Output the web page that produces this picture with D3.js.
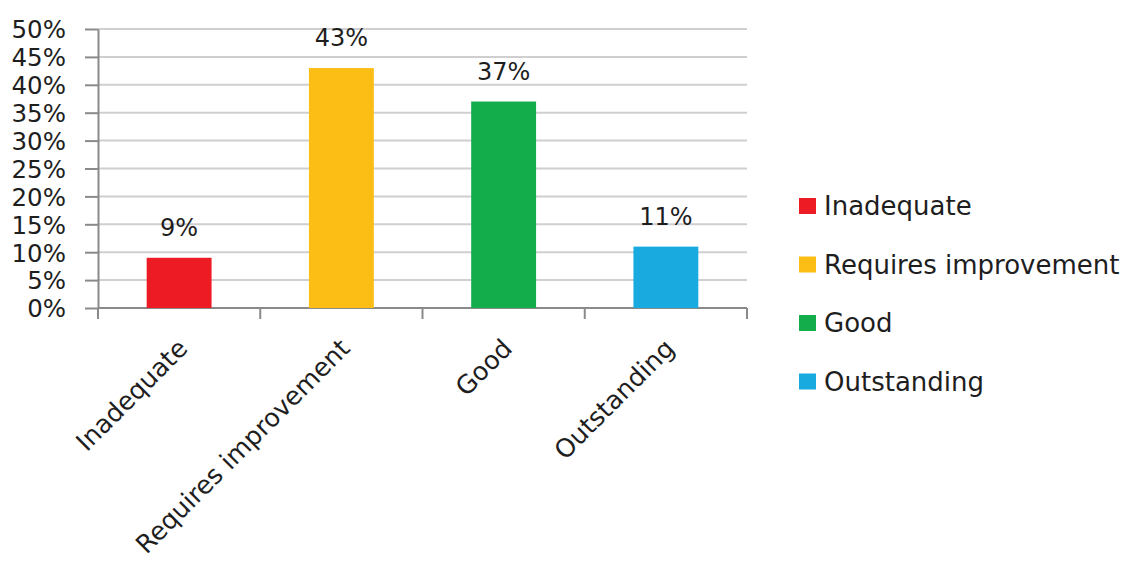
<!DOCTYPE html>
<html>
<head>
<meta charset="utf-8">
<script src="https://cdn.jsdelivr.net/npm/d3@7"></script>
<style>
  body { margin: 0; background: #fff; }
  text { font-family: "DejaVu Sans", sans-serif; fill: #1e1e1e; }
</style>
</head>
<body>
<svg id="chart" width="1129" height="562"></svg>
<script>
// chart data
const categories = ["Inadequate", "Requires improvement", "Good", "Outstanding"];
const values = [9, 43, 37, 11];
const colors = ["#ed1c24", "#fcbd14", "#14ad4b", "#19aae0"];
const yTicks = [0, 5, 10, 15, 20, 25, 30, 35, 40, 45, 50];

const svg = d3.select("#chart");
const plot = { left: 98, right: 747, top: 29, bottom: 308 };

const x = d3.scaleBand().domain(categories).range([plot.left, plot.right]).padding(0);
const y = d3.scaleLinear().domain([0, 50]).range([plot.bottom, plot.top]);

// gridlines
svg.append("g")
  .selectAll("line")
  .data(yTicks.slice(1))
  .join("line")
  .attr("x1", plot.left).attr("x2", plot.right)
  .attr("y1", d => y(d)).attr("y2", d => y(d))
  .attr("stroke", "#cfcfcf").attr("stroke-width", 2);

// y axis
const yAxis = svg.append("g")
  .attr("transform", `translate(${plot.left},0)`)
  .call(d3.axisLeft(y).tickValues(yTicks).tickFormat(d => d + "%").tickSize(13).tickSizeOuter(0));
yAxis.selectAll("path, line").attr("stroke", "#8a8a8a").attr("stroke-width", 2);
yAxis.selectAll("text").attr("font-size", 24.5).attr("x", -32).attr("dy", "0.36em").attr("fill", "#1e1e1e");

// x axis, ticks at the band edges
const xAxis = svg.append("g").attr("transform", `translate(0,${plot.bottom})`);
xAxis.append("line")
  .attr("x1", plot.left).attr("x2", plot.right)
  .attr("stroke", "#8a8a8a").attr("stroke-width", 2);
const edges = categories.map(c => x(c)).concat([x(categories[categories.length - 1]) + x.bandwidth()]);
xAxis.selectAll("line.tick")
  .data(edges)
  .join("line")
  .attr("class", "tick")
  .attr("x1", d => d).attr("x2", d => d)
  .attr("y1", 0).attr("y2", 11)
  .attr("stroke", "#8a8a8a").attr("stroke-width", 2);

// rotated category labels
xAxis.selectAll("text")
  .data(categories)
  .join("text")
  .attr("text-anchor", "end")
  .attr("font-size", 25.5)
  .attr("transform", d => `translate(${x(d) + x.bandwidth() / 2 + 10},${42}) rotate(-45)`)
  .text(d => d);

// bars
const barW = x.bandwidth() * 0.4;
svg.append("g")
  .selectAll("rect")
  .data(categories)
  .join("rect")
  .attr("x", d => x(d) + x.bandwidth() / 2 - barW / 2)
  .attr("y", (d, i) => y(values[i]))
  .attr("width", barW)
  .attr("height", (d, i) => plot.bottom - y(values[i]))
  .attr("fill", (d, i) => colors[i]);

// value labels
svg.append("g")
  .selectAll("text")
  .data(categories)
  .join("text")
  .attr("text-anchor", "middle")
  .attr("font-size", 24)
  .attr("x", d => x(d) + x.bandwidth() / 2)
  .attr("y", (d, i) => y(values[i]) - 22)
  .text((d, i) => values[i] + "%");

// legend
const legend = svg.append("g").attr("transform", "translate(799,206)");
const item = legend.selectAll("g")
  .data(categories)
  .join("g")
  .attr("transform", (d, i) => `translate(0,${i * 58.5})`);
item.append("rect")
  .attr("x", 0).attr("y", -8)
  .attr("width", 17).attr("height", 16)
  .attr("fill", (d, i) => colors[i]);
item.append("text")
  .attr("x", 25).attr("y", 0).attr("dy", "0.36em")
  .attr("font-size", 26)
  .text(d => d);
</script>
</body>
</html>
